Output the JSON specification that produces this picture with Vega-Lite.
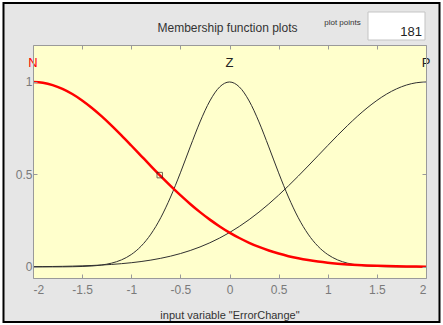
{
  "$schema": "https://vega.github.io/schema/vega-lite/v6.json",
  "width": 393,
  "height": 233,
  "autosize": {"type": "none"},
  "padding": {"left": 33, "top": 45, "right": 17, "bottom": 47},
  "background": "#e6e6e6",
  "config": {
    "view": {"stroke": null, "fill": "#ffffcc"},
    "font": "Liberation Sans, sans-serif",
    "axis": {
      "grid": false,
      "domainColor": "#9a9a9a",
      "tickColor": "#9a9a9a",
      "labelColor": "#7a7a7a",
      "labelFontSize": 12,
      "labelFont": "Liberation Sans, sans-serif",
      "titleFont": "Liberation Sans, sans-serif",
      "titleFontSize": 11,
      "titleFontWeight": "normal",
      "titleColor": "#333333"
    }
  },
  "datasets": {
    "mf": [
      {"mf": "N", "x": -2.0, "mu": 1.0000}, {"mf": "N", "x": -1.9, "mu": 0.9958}, {"mf": "N", "x": -1.8, "mu": 0.9833},
      {"mf": "N", "x": -1.7, "mu": 0.9628}, {"mf": "N", "x": -1.6, "mu": 0.9349}, {"mf": "N", "x": -1.5, "mu": 0.9001},
      {"mf": "N", "x": -1.4, "mu": 0.8594}, {"mf": "N", "x": -1.3, "mu": 0.8137}, {"mf": "N", "x": -1.2, "mu": 0.7639},
      {"mf": "N", "x": -1.1, "mu": 0.7112}, {"mf": "N", "x": -1.0, "mu": 0.6565}, {"mf": "N", "x": -0.9, "mu": 0.6010},
      {"mf": "N", "x": -0.8, "mu": 0.5455}, {"mf": "N", "x": -0.7, "mu": 0.4910}, {"mf": "N", "x": -0.6, "mu": 0.4383},
      {"mf": "N", "x": -0.5, "mu": 0.3880}, {"mf": "N", "x": -0.4, "mu": 0.3405}, {"mf": "N", "x": -0.3, "mu": 0.2963},
      {"mf": "N", "x": -0.2, "mu": 0.2557}, {"mf": "N", "x": -0.1, "mu": 0.2189}, {"mf": "N", "x": 0.0, "mu": 0.1857},
      {"mf": "N", "x": 0.1, "mu": 0.1563}, {"mf": "N", "x": 0.2, "mu": 0.1304}, {"mf": "N", "x": 0.3, "mu": 0.1079},
      {"mf": "N", "x": 0.4, "mu": 0.0886}, {"mf": "N", "x": 0.5, "mu": 0.0721}, {"mf": "N", "x": 0.6, "mu": 0.0581},
      {"mf": "N", "x": 0.7, "mu": 0.0465}, {"mf": "N", "x": 0.8, "mu": 0.0369}, {"mf": "N", "x": 0.9, "mu": 0.0290},
      {"mf": "N", "x": 1.0, "mu": 0.0226}, {"mf": "N", "x": 1.1, "mu": 0.0175}, {"mf": "N", "x": 1.2, "mu": 0.0134},
      {"mf": "N", "x": 1.3, "mu": 0.0102}, {"mf": "N", "x": 1.4, "mu": 0.0077}, {"mf": "N", "x": 1.5, "mu": 0.0058},
      {"mf": "N", "x": 1.6, "mu": 0.0043}, {"mf": "N", "x": 1.7, "mu": 0.0031}, {"mf": "N", "x": 1.8, "mu": 0.0023},
      {"mf": "N", "x": 1.9, "mu": 0.0017}, {"mf": "N", "x": 2.0, "mu": 0.0012},

      {"mf": "Z", "x": -2.0, "mu": 0.0000}, {"mf": "Z", "x": -1.9, "mu": 0.0001}, {"mf": "Z", "x": -1.8, "mu": 0.0002},
      {"mf": "Z", "x": -1.7, "mu": 0.0004}, {"mf": "Z", "x": -1.6, "mu": 0.0010}, {"mf": "Z", "x": -1.5, "mu": 0.0023},
      {"mf": "Z", "x": -1.4, "mu": 0.0050}, {"mf": "Z", "x": -1.3, "mu": 0.0104}, {"mf": "Z", "x": -1.2, "mu": 0.0204},
      {"mf": "Z", "x": -1.1, "mu": 0.0379}, {"mf": "Z", "x": -1.0, "mu": 0.0669}, {"mf": "Z", "x": -0.9, "mu": 0.1119},
      {"mf": "Z", "x": -0.8, "mu": 0.1772}, {"mf": "Z", "x": -0.7, "mu": 0.2658}, {"mf": "Z", "x": -0.6, "mu": 0.3778},
      {"mf": "Z", "x": -0.5, "mu": 0.5086}, {"mf": "Z", "x": -0.4, "mu": 0.6488}, {"mf": "Z", "x": -0.3, "mu": 0.7840},
      {"mf": "Z", "x": -0.2, "mu": 0.8975}, {"mf": "Z", "x": -0.1, "mu": 0.9733}, {"mf": "Z", "x": 0.0, "mu": 1.0000},
      {"mf": "Z", "x": 0.1, "mu": 0.9733}, {"mf": "Z", "x": 0.2, "mu": 0.8975}, {"mf": "Z", "x": 0.3, "mu": 0.7840},
      {"mf": "Z", "x": 0.4, "mu": 0.6488}, {"mf": "Z", "x": 0.5, "mu": 0.5086}, {"mf": "Z", "x": 0.6, "mu": 0.3778},
      {"mf": "Z", "x": 0.7, "mu": 0.2658}, {"mf": "Z", "x": 0.8, "mu": 0.1772}, {"mf": "Z", "x": 0.9, "mu": 0.1119},
      {"mf": "Z", "x": 1.0, "mu": 0.0669}, {"mf": "Z", "x": 1.1, "mu": 0.0379}, {"mf": "Z", "x": 1.2, "mu": 0.0204},
      {"mf": "Z", "x": 1.3, "mu": 0.0104}, {"mf": "Z", "x": 1.4, "mu": 0.0050}, {"mf": "Z", "x": 1.5, "mu": 0.0023},
      {"mf": "Z", "x": 1.6, "mu": 0.0010}, {"mf": "Z", "x": 1.7, "mu": 0.0004}, {"mf": "Z", "x": 1.8, "mu": 0.0002},
      {"mf": "Z", "x": 1.9, "mu": 0.0001}, {"mf": "Z", "x": 2.0, "mu": 0.0000},

      {"mf": "P", "x": -2.0, "mu": 0.0012}, {"mf": "P", "x": -1.9, "mu": 0.0017}, {"mf": "P", "x": -1.8, "mu": 0.0023},
      {"mf": "P", "x": -1.7, "mu": 0.0031}, {"mf": "P", "x": -1.6, "mu": 0.0043}, {"mf": "P", "x": -1.5, "mu": 0.0058},
      {"mf": "P", "x": -1.4, "mu": 0.0077}, {"mf": "P", "x": -1.3, "mu": 0.0102}, {"mf": "P", "x": -1.2, "mu": 0.0134},
      {"mf": "P", "x": -1.1, "mu": 0.0175}, {"mf": "P", "x": -1.0, "mu": 0.0226}, {"mf": "P", "x": -0.9, "mu": 0.0290},
      {"mf": "P", "x": -0.8, "mu": 0.0369}, {"mf": "P", "x": -0.7, "mu": 0.0465}, {"mf": "P", "x": -0.6, "mu": 0.0581},
      {"mf": "P", "x": -0.5, "mu": 0.0721}, {"mf": "P", "x": -0.4, "mu": 0.0886}, {"mf": "P", "x": -0.3, "mu": 0.1079},
      {"mf": "P", "x": -0.2, "mu": 0.1304}, {"mf": "P", "x": -0.1, "mu": 0.1563}, {"mf": "P", "x": 0.0, "mu": 0.1857},
      {"mf": "P", "x": 0.1, "mu": 0.2189}, {"mf": "P", "x": 0.2, "mu": 0.2557}, {"mf": "P", "x": 0.3, "mu": 0.2963},
      {"mf": "P", "x": 0.4, "mu": 0.3405}, {"mf": "P", "x": 0.5, "mu": 0.3880}, {"mf": "P", "x": 0.6, "mu": 0.4383},
      {"mf": "P", "x": 0.7, "mu": 0.4910}, {"mf": "P", "x": 0.8, "mu": 0.5455}, {"mf": "P", "x": 0.9, "mu": 0.6010},
      {"mf": "P", "x": 1.0, "mu": 0.6565}, {"mf": "P", "x": 1.1, "mu": 0.7112}, {"mf": "P", "x": 1.2, "mu": 0.7639},
      {"mf": "P", "x": 1.3, "mu": 0.8137}, {"mf": "P", "x": 1.4, "mu": 0.8594}, {"mf": "P", "x": 1.5, "mu": 0.9001},
      {"mf": "P", "x": 1.6, "mu": 0.9349}, {"mf": "P", "x": 1.7, "mu": 0.9628}, {"mf": "P", "x": 1.8, "mu": 0.9833},
      {"mf": "P", "x": 1.9, "mu": 0.9958}, {"mf": "P", "x": 2.0, "mu": 1.0000}
    ],
    "peaks": [
      {"mf": "N", "center": -2},
      {"mf": "Z", "center": 0},
      {"mf": "P", "center": 2}
    ]
  },
  "resolve": {"axis": {"x": "independent", "y": "independent"}},
  "layer": [
    {
      "data": {"values": [{}]},
      "mark": {"type": "rect", "fill": null, "stroke": "#ffffff", "strokeWidth": 6},
      "encoding": {
        "x": {"datum": -2.3359, "type": "quantitative", "scale": {"domain": [-2, 2], "nice": false, "zero": false}, "axis": null},
        "x2": {"datum": 2.1730},
        "y": {"datum": 1.4434, "type": "quantitative", "scale": {"domain": [-0.06, 1.2], "nice": false, "zero": false}, "axis": null},
        "y2": {"datum": -0.3143}
      }
    },
    {
      "data": {"values": [{}]},
      "mark": {"type": "rect", "fill": null, "stroke": "#000000", "strokeWidth": 2},
      "encoding": {
        "x": {"datum": -2.3003, "type": "quantitative", "scale": {"domain": [-2, 2], "nice": false, "zero": false}, "axis": null},
        "x2": {"datum": 2.1374},
        "y": {"datum": 1.4272, "type": "quantitative", "scale": {"domain": [-0.06, 1.2], "nice": false, "zero": false}, "axis": null},
        "y2": {"datum": -0.2981}
      }
    },
    {
      "data": {"values": [{}]},
      "mark": {"type": "text", "text": "Membership function plots", "fontSize": 12, "align": "center", "baseline": "alphabetic", "color": "#333333"},
      "encoding": {
        "x": {"datum": -0.0204, "type": "quantitative", "scale": {"domain": [-2, 2], "nice": false, "zero": false}, "axis": null},
        "y": {"datum": 1.273, "type": "quantitative", "scale": {"domain": [-0.06, 1.2], "nice": false, "zero": false}, "axis": null}
      }
    },
    {
      "data": {"values": [{}]},
      "mark": {"type": "rect", "fill": "#ffffff", "stroke": "#c4c4c4", "strokeWidth": 1},
      "encoding": {
        "x": {"datum": 1.4097, "type": "quantitative", "scale": {"domain": [-2, 2], "nice": false, "zero": false}, "axis": null},
        "x2": {"datum": 1.9898},
        "y": {"datum": 1.227, "type": "quantitative", "scale": {"domain": [-0.06, 1.2], "nice": false, "zero": false}, "axis": null},
        "y2": {"datum": 1.3785}
      }
    },
    {
      "data": {"values": [{}]},
      "mark": {"type": "text", "text": "plot points", "fontSize": 8, "align": "center", "baseline": "alphabetic", "color": "#333333"},
      "encoding": {
        "x": {"datum": 1.15, "type": "quantitative", "scale": {"domain": [-2, 2], "nice": false, "zero": false}, "axis": null},
        "y": {"datum": 1.308, "type": "quantitative", "scale": {"domain": [-0.06, 1.2], "nice": false, "zero": false}, "axis": null}
      }
    },
    {
      "data": {"values": [{}]},
      "mark": {"type": "text", "text": "181", "fontSize": 13, "align": "right", "baseline": "alphabetic", "color": "#222222"},
      "encoding": {
        "x": {"datum": 1.959, "type": "quantitative", "scale": {"domain": [-2, 2], "nice": false, "zero": false}, "axis": null},
        "y": {"datum": 1.246, "type": "quantitative", "scale": {"domain": [-0.06, 1.2], "nice": false, "zero": false}, "axis": null}
      }
    },
    {
      "data": {"name": "mf"},
      "transform": [{"filter": "datum.mf !== 'N'"}],
      "mark": {"type": "line", "color": "#303030", "strokeWidth": 1, "interpolate": "monotone"},
      "encoding": {
        "x": {
          "field": "x", "type": "quantitative",
          "scale": {"domain": [-2, 2], "nice": false, "zero": false},
          "axis": {
            "orient": "bottom",
            "values": [-2, -1.5, -1, -0.5, 0, 0.5, 1, 1.5, 2],
            "labelExpr": "'' + datum.value",
            "tickSize": -4,
            "labelPadding": 10,
            "title": "input variable \"ErrorChange\"",
            "titlePadding": 14,
            "zindex": 1
          }
        },
        "y": {
          "field": "mu", "type": "quantitative",
          "scale": {"domain": [-0.06, 1.2], "nice": false, "zero": false},
          "axis": {
            "orient": "left",
            "values": [0, 0.5, 1],
            "labelExpr": "'' + datum.value",
            "tickSize": -4,
            "labelPadding": 5,
            "title": null,
            "zindex": 1
          }
        },
        "detail": {"field": "mf"}
      }
    },
    {
      "data": {"name": "mf"},
      "transform": [{"filter": "datum.mf === 'N'"}],
      "mark": {"type": "line", "color": "#ff0000", "strokeWidth": 2.5, "interpolate": "monotone"},
      "encoding": {
        "x": {
          "field": "x", "type": "quantitative",
          "scale": {"domain": [-2, 2], "nice": false, "zero": false},
          "axis": {"orient": "top", "values": [-2, -1.5, -1, -0.5, 0, 0.5, 1, 1.5, 2], "labels": false, "tickSize": -4, "title": null, "zindex": 1}
        },
        "y": {
          "field": "mu", "type": "quantitative",
          "scale": {"domain": [-0.06, 1.2], "nice": false, "zero": false},
          "axis": {"orient": "right", "values": [0, 0.5, 1], "labels": false, "tickSize": -4, "title": null, "zindex": 1}
        }
      }
    },
    {
      "data": {"values": [{}]},
      "mark": {"type": "point", "shape": "square", "size": 30, "filled": false, "stroke": "#3a2020", "strokeWidth": 1},
      "encoding": {
        "x": {"datum": -0.71, "type": "quantitative", "scale": {"domain": [-2, 2], "nice": false, "zero": false}, "axis": null},
        "y": {"datum": 0.4964, "type": "quantitative", "scale": {"domain": [-0.06, 1.2], "nice": false, "zero": false}, "axis": null}
      }
    },
    {
      "data": {"name": "peaks"},
      "mark": {"type": "text", "fontSize": 13, "align": "center", "baseline": "alphabetic"},
      "encoding": {
        "x": {"field": "center", "type": "quantitative", "scale": {"domain": [-2, 2], "nice": false, "zero": false}, "axis": null},
        "y": {"datum": 1.081, "type": "quantitative", "scale": {"domain": [-0.06, 1.2], "nice": false, "zero": false}, "axis": null},
        "text": {"field": "mf"},
        "color": {"field": "mf", "type": "nominal", "scale": {"domain": ["N", "Z", "P"], "range": ["#ff0000", "#222222", "#222222"]}, "legend": null}
      }
    }
  ]
}
